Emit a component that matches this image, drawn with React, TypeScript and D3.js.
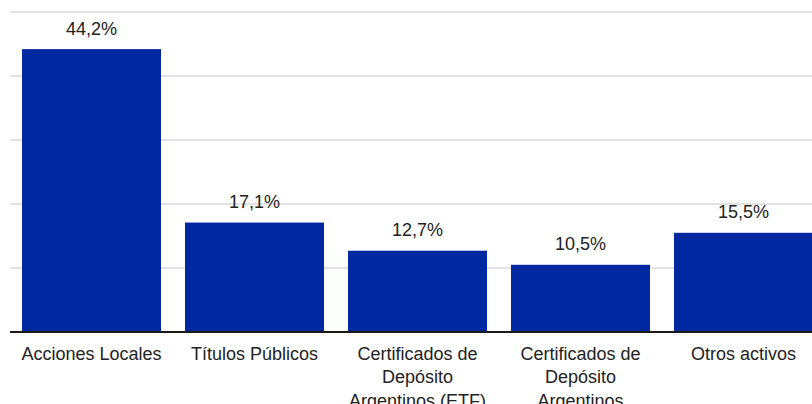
import { useEffect, useRef } from 'react';
import * as d3 from 'd3';

// categorías y porcentajes
const categories = [
  'Acciones Locales',
  'Títulos Públicos',
  'Certificados de Depósito Argentinos (ETF)',
  'Certificados de Depósito Argentinos',
  'Otros activos',
];
const values = [44.2, 17.1, 12.7, 10.5, 15.5];
const gridTicks = [10, 20, 30, 40, 50];

const WIDTH = 812;
const HEIGHT = 404;

// corta el texto en líneas según el ancho disponible
function wrap(sel: any, width: number) {
  sel.each(function (this: SVGTextElement) {
    const text = d3.select(this);
    const words = text.text().split(/\s+/);
    const x = text.attr('x');
    const y = text.attr('y');
    text.text(null);
    let line: string[] = [];
    let lineNo = 0;
    let tspan = text.append('tspan').attr('x', x).attr('y', y);
    words.forEach((w) => {
      line.push(w);
      tspan.text(line.join(' '));
      if ((tspan.node() as SVGTSpanElement).getComputedTextLength() > width && line.length > 1) {
        line.pop();
        tspan.text(line.join(' '));
        line = [w];
        lineNo += 1;
        tspan = text.append('tspan').attr('x', x).attr('y', +y + lineNo * 23.3).text(w);
      }
    });
  });
}

export default function App() {
  const svgRef = useRef<SVGSVGElement>(null);

  useEffect(() => {
    document.body.style.margin = '0';
    const svg = d3.select(svgRef.current);
    svg.selectAll('*').remove();

    const x = d3.scaleBand<string>()
      .domain(categories)
      .range([10, 10 + 5 * 163])
      .paddingInner(24 / 163)
      .paddingOuter(12 / 163);

    const y = d3.scaleLinear().domain([0, 50]).range([332, 12]);

    // líneas de cuadrícula
    svg.append('g')
      .selectAll('line')
      .data(gridTicks)
      .join('line')
      .attr('x1', 10)
      .attr('x2', WIDTH)
      .attr('y1', d => y(d))
      .attr('y2', d => y(d))
      .attr('stroke', '#d9d9d9')
      .attr('stroke-width', 1.5);

    // barras
    svg.append('g')
      .selectAll('rect')
      .data(values)
      .join('rect')
      .attr('x', (_, i) => x(categories[i])!)
      .attr('y', d => y(d))
      .attr('width', x.bandwidth())
      .attr('height', d => y(0) - y(d))
      .attr('fill', '#0028a0');

    // eje base
    svg.append('line')
      .attr('x1', 10)
      .attr('x2', WIDTH)
      .attr('y1', y(0))
      .attr('y2', y(0))
      .attr('stroke', '#1a1a1a')
      .attr('stroke-width', 2);

    const font = "'Liberation Sans', Arial, sans-serif";

    // etiquetas de valor
    svg.append('g')
      .selectAll('text')
      .data(values)
      .join('text')
      .attr('x', (_, i) => x(categories[i])! + x.bandwidth() / 2)
      .attr('y', d => y(d) - 14.5)
      .attr('text-anchor', 'middle')
      .style('font-family', font)
      .style('font-size', '18px')
      .style('fill', '#222')
      .text(d => d.toFixed(1).replace('.', ',') + '%');

    // etiquetas de categoría
    svg.append('g')
      .selectAll('text')
      .data(categories)
      .join('text')
      .attr('x', d => x(d)! + x.bandwidth() / 2)
      .attr('y', y(0) + 28)
      .attr('text-anchor', 'middle')
      .style('font-family', font)
      .style('font-size', '18px')
      .style('fill', '#222')
      .text(d => d)
      .call(wrap, 150);
  }, []);

  return <svg ref={svgRef} width={WIDTH} height={HEIGHT} style={{ display: 'block' }} />;
}
